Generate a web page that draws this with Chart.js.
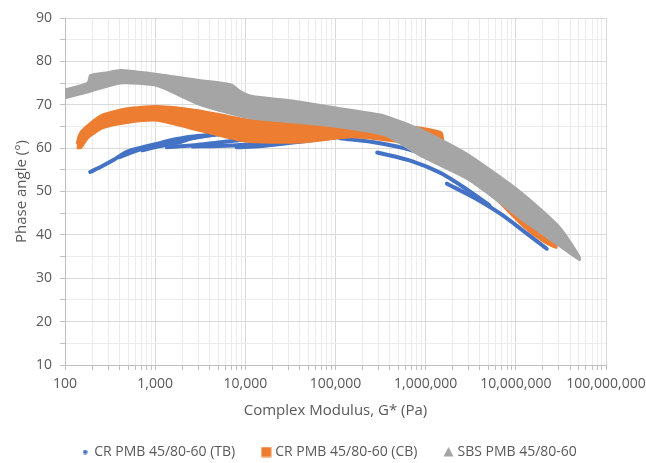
<!DOCTYPE html>
<html>
<head>
<meta charset="utf-8">
<script src="https://cdn.jsdelivr.net/npm/chart.js@4.4.1/dist/chart.umd.min.js"></script>
<style>
    html, body { margin: 0; padding: 0; background: #fff; }
    #wrap { width: 646px; height: 463px; }
</style>
</head>
<body>
<div id="wrap"><canvas id="graph"></canvas></div>
<script>
// [G* (Pa), phase angle (deg)]

// CR PMB 45/80-60 (TB) - separate isotherm strands
const tb1 = [[190,54.5],[260,55.9],[340,57.2],[480,59.1],[730,60.2],[1100,61.1],[1500,61.8],[2500,62.6],[4500,63.1]];
const tb2 = [[400,57.9],[550,59],[800,60.2],[1200,61],[2000,61.9],[3500,62.8],[6000,63.4],[10000,63.8]];
const tb3 = [[720,59.5],[1100,60.4],[1800,61.3],[2600,62.3],[5000,63.2],[9000,63.8],[16000,64.2]];
const tb4 = [[1350,60.2],[2500,60.6],[5000,61.3],[10000,62],[20000,62.8],[40000,63.4],[80000,64]];
const tb5 = [[2600,60.4],[5000,60.5],[10000,60.8],[20000,61.4],[40000,62.1],[80000,62.8],[150000,63.4]];
const tb6 = [[8000,60.2],[15000,60.5],[30000,61.2],[60000,61.9],[120000,62.6],[250000,63],[400000,62.8]];
const tb7 = [[100000,64.1],[200000,63.8],[350000,62.8],[560000,61.3],[800000,60.3]];
const tb8 = [[112000,62.3],[300000,61.2],[700000,59.5],[1300000,57.2],[3300000,52.5],[4500000,50.5]];
const tb9 = [[290000,59],[700000,57],[1450000,54.3],[3000000,50.2],[5100000,46.8]];
const tb10 = [[1720000,51.8],[3500000,48.5],[6600000,45],[12000000,41],[22000000,36.8]];

// CR PMB 45/80-60 (CB) - outline of the band
const cbUpper = [[135,61],[140,62.5],[150,63.8],[190,65.8],[265,67.8],[485,69.2],[1050,69.7],[3100,68.7],[10400,66.6],[33000,65.9],[100000,65.5],[300000,65],[800000,64.8],[1500000,63.6],[1600000,61],[2500000,58],[4000000,54.5],[8000000,48.5],[15000000,43],[28000000,38]];
const cbLower = [[135,60],[150,60],[180,62.3],[265,64.6],[485,65.8],[1050,66.3],[3100,64],[10000,61.5],[40000,61.3],[150000,62.5],[300000,62],[600000,61],[1000000,58.5],[2000000,55],[3500000,52],[6000000,48.2],[12000000,42],[20000000,38.5],[28000000,37]];

// SBS PMB 45/80-60 - outline of the band
const sbsUpper = [[100,73.5],[150,74.5],[180,75.2],[190,76.8],[300,77.5],[410,78],[1050,77.1],[3100,75.7],[7000,74.7],[9000,73],[12000,72],[33000,71],[112000,69.2],[350000,67.5],[930000,64.1],[3100000,58.3],[12000000,49.5],[30000000,42],[51000000,35]];
const sbsLower = [[100,71.5],[190,73],[410,74.9],[1050,74.3],[3100,70],[10400,67],[40000,65.8],[112000,64.8],[350000,63],[930000,57.9],[3100000,52.5],[12000000,43.3],[30000000,37.5],[51000000,34.2]];

const seriesNames = ['CR PMB 45/80-60 (TB)', 'CR PMB 45/80-60 (CB)', 'SBS PMB 45/80-60'];
const seriesColors = ['#4472c4', '#ed7d31', '#a5a5a5'];

const xDecades = [100, 1000, 10000, 100000, 1000000, 10000000, 100000000];
const yTicks = [10, 15, 20, 25, 30, 35, 40, 45, 50, 55, 60, 65, 70, 75, 80, 85, 90];

const xTickValues = [];
xDecades.forEach(function(d, i) {
    if (i === xDecades.length - 1) { xTickValues.push(d); return; }
    for (let m = 1; m <= 9; m++) xTickValues.push(m * d);
});

function pts(arr) {
    return arr.map(p => ({x: p[0], y: p[1]}));
}
function outline(upper, lower) {
    return pts(upper.concat(lower.slice().reverse()));
}
function isMajorX(v) {
    return Math.abs(Math.log10(v) - Math.round(Math.log10(v))) < 1e-6;
}

// little canvases used as legend markers
function marker(kind, color) {
    const c = document.createElement('canvas');
    const s = kind === 'dot' ? 5 : 11;
    c.width = s; c.height = s;
    const g = c.getContext('2d');
    g.fillStyle = color;
    if (kind === 'dot') {
        g.beginPath(); g.arc(2.5, 2.5, 2.2, 0, Math.PI * 2); g.fill();
    } else if (kind === 'square') {
        g.fillRect(0.5, 0.5, 10, 10);
    } else {
        g.beginPath(); g.moveTo(5.5, 0.5); g.lineTo(10.5, 10); g.lineTo(0.5, 10); g.closePath(); g.fill();
    }
    return c;
}
const legendMarkers = [marker('dot', seriesColors[0]), marker('square', seriesColors[1]), marker('tri', seriesColors[2])];

const tbSets = [tb1, tb2, tb3, tb4, tb5, tb6, tb7, tb8, tb9, tb10].map(function(curve) {
    return {
        label: seriesNames[0],
        data: pts(curve),
        showLine: true,
        borderColor: seriesColors[0],
        backgroundColor: seriesColors[0],
        borderWidth: 4,
        borderCapStyle: 'round',
        tension: 0.3,
        pointRadius: 0,
        order: 3
    };
});

const datasets = tbSets.concat([
    {
        label: seriesNames[1],
        data: outline(cbUpper, cbLower),
        showLine: true,
        fill: 'shape',
        borderColor: seriesColors[1],
        backgroundColor: seriesColors[1],
        borderWidth: 2,
        tension: 0.2,
        pointRadius: 0,
        order: 2
    },
    {
        label: seriesNames[2],
        data: outline(sbsUpper, sbsLower),
        showLine: true,
        fill: 'shape',
        borderColor: seriesColors[2],
        backgroundColor: seriesColors[2],
        borderWidth: 2,
        tension: 0.2,
        pointRadius: 0,
        order: 1
    }
]);

const textColor = '#595959';
const font = "'Open Sans', 'Liberation Sans', sans-serif";

new Chart(document.querySelector('#graph'), {
    type: 'scatter',
    data: { datasets: datasets },
    options: {
        responsive: true,
        maintainAspectRatio: false,
        animation: false,
        layout: { padding: { top: 18, right: 0, left: 14, bottom: -6 } },
        plugins: {
            tooltip: { enabled: false },
            legend: {
                position: 'bottom',
                onClick: null,
                labels: {
                    color: textColor,
                    font: { family: font, size: 14 },
                    usePointStyle: true,
                    pointStyleWidth: 4,
                    padding: 29,
                    generateLabels: function() {
                        return seriesNames.map((name, i) => ({
                            text: name,
                            fillStyle: seriesColors[i],
                            strokeStyle: seriesColors[i],
                            lineWidth: 0,
                            pointStyle: legendMarkers[i],
                            fontColor: textColor,
                            hidden: false,
                            datasetIndex: i
                        }));
                    }
                }
            }
        },
        scales: {
            x: {
                type: 'logarithmic',
                min: 100,
                max: 100000000,
                afterBuildTicks: function(scale) {
                    scale.ticks = xTickValues.map(v => ({value: v}));
                },
                afterFit: function(scale) {
                    scale.height = 51;
                    scale.paddingRight = 0;
                    scale.paddingLeft = 0;
                },
                ticks: {
                    autoSkip: false,
                    maxRotation: 0,
                    color: textColor,
                    padding: 6,
                    font: { family: font, size: 14 },
                    callback: v => isMajorX(v) ? Number(v).toLocaleString('en-US') : ''
                },
                grid: {
                    color: ctx => (ctx.tick && isMajorX(ctx.tick.value)) ? '#d9d9d9' : '#ececec',
                    tickColor: '#bfbfbf',
                    tickLength: 5
                },
                border: { color: '#bfbfbf' },
                title: {
                    display: true,
                    text: 'Complex Modulus, G* (Pa)',
                    color: textColor,
                    font: { family: font, size: 15 },
                    padding: { top: 0, bottom: -4 }
                }
            },
            y: {
                type: 'linear',
                min: 10,
                max: 90,
                afterBuildTicks: function(scale) {
                    scale.ticks = yTicks.map(v => ({value: v}));
                },
                afterFit: function(scale) { scale.width = 51; },
                ticks: {
                    autoSkip: false,
                    color: textColor,
                    padding: 8,
                    font: { family: font, size: 14 },
                    callback: v => v % 10 === 0 ? v : ''
                },
                grid: {
                    color: ctx => (ctx.tick && ctx.tick.value % 10 === 0) ? '#d9d9d9' : '#ececec',
                    tickColor: '#bfbfbf',
                    tickLength: 5
                },
                border: { color: '#bfbfbf' },
                title: {
                    display: true,
                    text: 'Phase angle (°)',
                    color: textColor,
                    font: { family: font, size: 15 },
                    padding: { top: -1, bottom: 0 }
                }
            },
            // empty spacer on the right so the plot ends where the reference's does
            yRight: {
                type: 'linear',
                position: 'right',
                display: true,
                afterFit: function(scale) { scale.width = 40; },
                ticks: { display: false },
                grid: { display: false, drawTicks: false },
                border: { display: false }
            }
        }
    }
});
</script>
</body>
</html>
